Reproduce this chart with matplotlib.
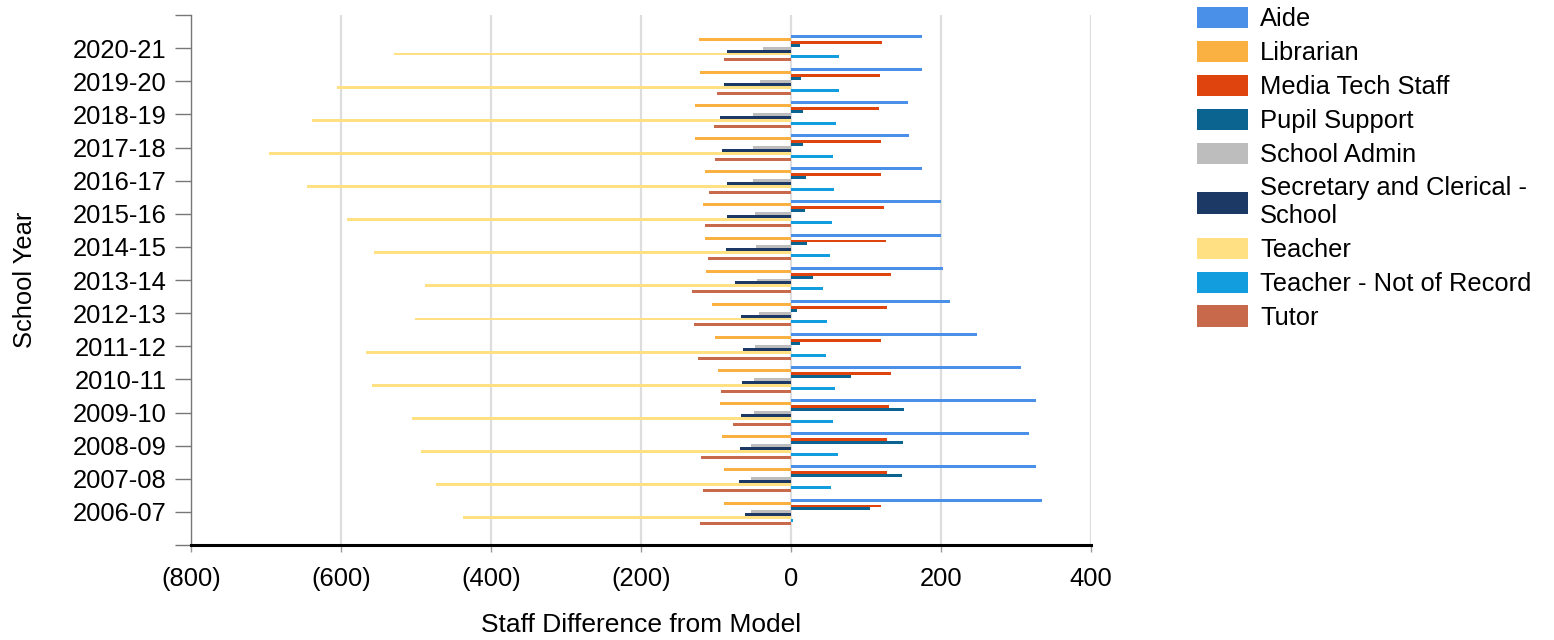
import matplotlib
matplotlib.use("Agg")
import matplotlib.pyplot as plt
from matplotlib.ticker import FuncFormatter
import numpy as np

plt.rcParams['font.family'] = ['Liberation Sans', 'DejaVu Sans']

# school years, top to bottom
years = ["2020-21", "2019-20", "2018-19", "2017-18", "2016-17", "2015-16",
         "2014-15", "2013-14", "2012-13", "2011-12", "2010-11", "2009-10",
         "2008-09", "2007-08", "2006-07"]

aide = [175, 175, 156, 157, 175, 200, 200, 202, 212, 248, 307, 327, 317, 327, 335]
librarian = [-123, -122, -128, -128, -115, -117, -115, -113, -106, -101, -97, -95, -92, -90, -90]
media_tech = [121, 119, 117, 120, 120, 124, 126, 133, 128, 120, 133, 131, 128, 128, 120]
pupil_support = [12, 13, 16, 16, 20, 19, 21, 29, 8, 12, 80, 151, 149, 148, 105]
school_admin = [-38, -41, -51, -51, -51, -48, -47, -45, -43, -48, -50, -50, -53, -54, -54]
secretary = [-86, -90, -95, -92, -86, -86, -87, -75, -67, -64, -66, -67, -68, -69, -62]
teacher = [-529, -606, -639, -696, -646, -592, -556, -488, -502, -567, -559, -506, -494, -474, -437]
teacher_nor = [64, 64, 60, 56, 57, 55, 52, 42, 48, 46, 59, 56, 63, 53, 2]
tutor = [-90, -99, -103, -102, -110, -115, -111, -132, -129, -124, -93, -77, -120, -117, -122]

series = [
    ("Aide", aide, "#4A8FE8"),
    ("Librarian", librarian, "#FBB142"),
    ("Media Tech Staff", media_tech, "#E0440E"),
    ("Pupil Support", pupil_support, "#0B6490"),
    ("School Admin", school_admin, "#BDBDBD"),
    ("Secretary and Clerical -\nSchool", secretary, "#1C3966"),
    ("Teacher", teacher, "#FFE083"),
    ("Teacher - Not of Record", teacher_nor, "#129DDF"),
    ("Tutor", tutor, "#C8694B"),
]

fig = plt.figure(figsize=(15.54, 6.4), dpi=100)
ax = fig.add_axes([191 / 1554, 1 - 545 / 640, 900 / 1554, 530 / 640])

y = np.arange(len(years))
bar_h = 0.089
n = len(series)
for i, (name, vals, color) in enumerate(series):
    offset = (i - (n - 1) / 2) * bar_h
    ax.barh(y + offset, vals, height=bar_h, color=color, label=name, linewidth=0)

ax.set_xlim(-800, 400)
ax.set_ylim(15, -1)
ax.set_xticks(np.arange(-800, 401, 200))
ax.xaxis.set_major_formatter(FuncFormatter(
    lambda v, p: f"({abs(int(v))})" if v < 0 else f"{int(v)}"))
ax.set_yticks(np.arange(-1, 16))
ax.set_yticklabels([""] + years + [""])

ax.grid(axis="x", color="#DDDDDD", linewidth=1.6)
ax.set_axisbelow(True)
for s in ["top", "right"]:
    ax.spines[s].set_visible(False)
ax.spines["left"].set_color("#777777")
ax.spines["left"].set_linewidth(1)
ax.spines["bottom"].set_color("black")
ax.spines["bottom"].set_linewidth(2.2)

ax.tick_params(axis="y", length=11.5, width=1, color="#777777", pad=6, labelsize=18.4)
ax.tick_params(axis="x", length=5, width=1, color="#999999", pad=11, labelsize=18.4)

ax.set_xlabel("Staff Difference from Model", fontsize=19, labelpad=16)
ax.set_ylabel("School Year", fontsize=18.4, labelpad=26)

fig.legend(loc="upper left", bbox_to_anchor=(1197 / 1554, 1 - 7 / 640),
           frameon=False, fontsize=18.4, handlelength=2.0, handleheight=0.9,
           handletextpad=0.47, labelspacing=0.37, borderpad=0, borderaxespad=0)

fig.savefig("out.png", dpi=100)
